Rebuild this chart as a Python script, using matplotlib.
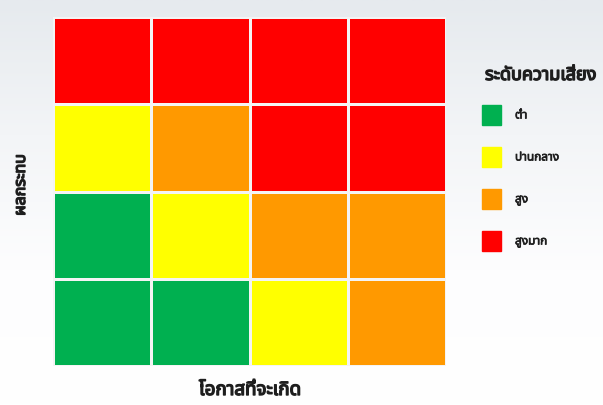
import numpy as np
import matplotlib
matplotlib.use("Agg")
import matplotlib.pyplot as plt
from matplotlib.colors import ListedColormap, LinearSegmentedColormap
from matplotlib import font_manager
import matplotlib.patheffects as pe

# ---- data ----
level_names = ["ต่ำ", "ปานกลาง", "สูง", "สูงมาก"]
level_colors = ["#00B050", "#FFFF00", "#FF9900", "#FF0000"]
# rows: impact from top (highest) to bottom; columns: likelihood left to right
risk_rows = [
    [3, 3, 3, 3],
    [1, 2, 3, 3],
    [0, 1, 2, 2],
    [0, 0, 1, 2],
]
x_title = "โอกาสที่จะเกิด"
y_title = "ผลกระทบ"
legend_title = "ระดับความเสี่ยง"

# ---- find a font with Thai glyphs ----
thai_font = None
try:
    from fontTools.ttLib import TTFont
    cands = []
    for f in font_manager.fontManager.ttflist:
        try:
            tt = TTFont(f.fname, fontNumber=0, lazy=True)
            cmap = tt.getBestCmap()
            if cmap and 0x0E01 in cmap and 0x0E48 in cmap:
                cands.append(f.name)
        except Exception:
            pass
    for pref in ["Noto Sans Thai", "Noto Sans Thai UI", "Loma", "Garuda", "Tlwg Typo"]:
        if pref in cands:
            thai_font = pref
            break
    if thai_font is None and cands:
        thai_font = cands[0]
except Exception:
    pass
fams = ([thai_font] if thai_font else []) + ["DejaVu Sans"]
plt.rcParams["font.family"] = fams

W, H = 603, 405
fig = plt.figure(figsize=(W / 100, H / 100), dpi=100)

# background gradient
bg = fig.add_axes([0, 0, 1, 1], zorder=-10)
grad = np.linspace(0, 1, 256).reshape(-1, 1)
cm_bg = LinearSegmentedColormap.from_list("bg", ["#E6EAEE", "#F3F5F7", "#FDFDFE", "#FFFFFF"])
bg.imshow(grad, aspect="auto", cmap=cm_bg, extent=[0, 1, 0, 1], origin="upper")
bg.axis("off")

# matrix axes: x 53-446, y 17-366 px
ax = fig.add_axes([53 / W, 1 - 366 / H, (446 - 53) / W, (366 - 17) / H])
data = np.array(risk_rows)
nrows, ncols = data.shape
cmap = ListedColormap(level_colors)
ax.pcolormesh(np.arange(ncols + 1), np.arange(nrows + 1), data[::-1],
              cmap=cmap, vmin=-0.5, vmax=3.5, edgecolors="#F4F4F4", linewidth=1.8)
ax.set_xlim(0, ncols)
ax.set_ylim(0, nrows)
ax.set_xticks([])
ax.set_yticks([])
for s in ax.spines.values():
    s.set_visible(False)

def bold(lw):
    return [pe.withStroke(linewidth=lw, foreground="#1E1E1E")]

fig.text(250 / W, 1 - 390 / H, x_title, ha="center", va="center",
         fontsize=13.5, color="#1E1E1E", path_effects=bold(1.0))
fig.text(21 / W, 1 - 185 / H, y_title, ha="center", va="center", rotation=90,
         fontsize=11.5, color="#1E1E1E", path_effects=bold(1.0))

# legend
fig.text(541 / W, 1 - 75 / H, legend_title, ha="center", va="center",
         fontsize=13, color="#1E1E1E", path_effects=bold(1.0))
ys = [115, 157, 199, 241]
for name, col, yc in zip(level_names, level_colors, ys):
    fig.patches.append(plt.Rectangle((482 / W, 1 - (yc + 10) / H), 19 / W, 20 / H,
                                     transform=fig.transFigure, color=col, figure=fig))
    fig.text(515 / W, 1 - yc / H, name, ha="left", va="center",
             fontsize=8.5, color="#1E1E1E", path_effects=bold(0.5))

fig.savefig("out.png", dpi=100)
